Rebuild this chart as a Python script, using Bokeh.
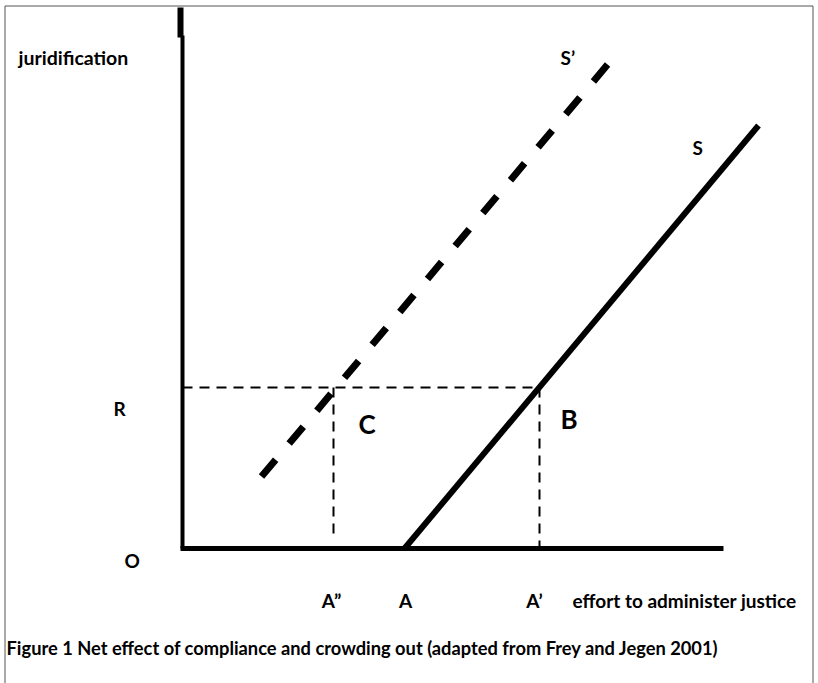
from bokeh.plotting import figure
from bokeh.models import Range1d
from bokeh.core.properties import value
from bokeh.embed import file_html
from bokeh.resources import INLINE

# ---- data (units ~ pixels from origin O) ----
x_axis_end = 541
y_axis_end = 513
y_axis_cap = 541
effort_labels = ["A\u201d", "A", "A\u2019"]
effort_values = [151, 222, 357]
R_value = 161
S_x = [222, 576]
S_y = [0, 423]
S2_x = [79, 431]
S2_y = [72, 491]
A2_low = 8
caption = "Figure 1 Net effect of compliance and crowding out (adapted from Frey and Jegen 2001)"
x_title = "effort to administer justice"
y_title = "juridification"

FONT = value("Lato")

W, H = 818, 683
x_range = Range1d(-182, -182 + W)
y_range = Range1d(-(H - 548), 548)

p = figure(width=W, height=H, x_range=x_range, y_range=y_range,
           output_backend="svg", toolbar_location=None, min_border=0)
p.axis.visible = False
p.grid.visible = False
p.outline_line_color = None
p.background_fill_color = "white"

# picture border (top, left, right)
bx0, bx1 = x_range.start + 4.5, x_range.end - 5.5
by0, by1 = y_range.start, y_range.end - 5.5
p.line([bx0, bx0, bx1, bx1], [by0, by1, by1, by0], line_color="#555555", line_width=1)

# axes
p.line([-2, x_axis_end], [0, 0], line_color="black", line_width=5)
p.line([0, 0], [0, y_axis_end], line_color="black", line_width=4)
p.line([-2, -2], [y_axis_end - 2, y_axis_cap], line_color="black", line_width=6)

# reference dashed lines
p.line([0, effort_values[2]], [R_value, R_value], line_color="black",
       line_width=2, line_dash="10 7")
p.line([effort_values[0], effort_values[0]], [R_value, A2_low], line_color="black",
       line_width=2, line_dash="10 7")
p.line([effort_values[2], effort_values[2]], [R_value, 0], line_color="black",
       line_width=2, line_dash="10 7")

# supply curves
p.line(S_x, S_y, line_color="black", line_width=6)
p.line(S2_x, S2_y, line_color="black", line_width=7, line_dash="22 21")

# texts
common = dict(text_font=FONT, text_font_style="bold", text_color="black",
              text_baseline="middle")
LBL = "19px"
p.text(x=[-164], y=[491], text=[y_title], text_font_size="19.5px", text_align="left", **common)
p.text(x=[378], y=[491], text=["S\u2019"], text_font_size=LBL, text_align="left", **common)
p.text(x=[510], y=[401], text=["S"], text_font_size=LBL, text_align="left", **common)
p.text(x=[-69], y=[R_value - 21], text=["R"], text_font_size=LBL, text_align="left", **common)
p.text(x=[-58], y=[-12], text=["O"], text_font_size=LBL, text_align="left", **common)
p.text(x=[176], y=[125], text=["C"], text_font_size="26px", text_align="left", **common)
p.text(x=[378], y=[130], text=["B"], text_font_size="26px", text_align="left", **common)
p.text(x=effort_values, y=[-52] * 3, text=effort_labels, text_font_size=LBL,
       text_align="center", x_offset=[-2, 1, -5], **common)
p.text(x=[390], y=[-52], text=[x_title], text_font_size=LBL, text_align="left", **common)
p.text(x=[-176], y=[-99], text=[caption], text_font_size="18.3px", text_align="left", **common)

open("out.html", "w").write(file_html(p, INLINE))
